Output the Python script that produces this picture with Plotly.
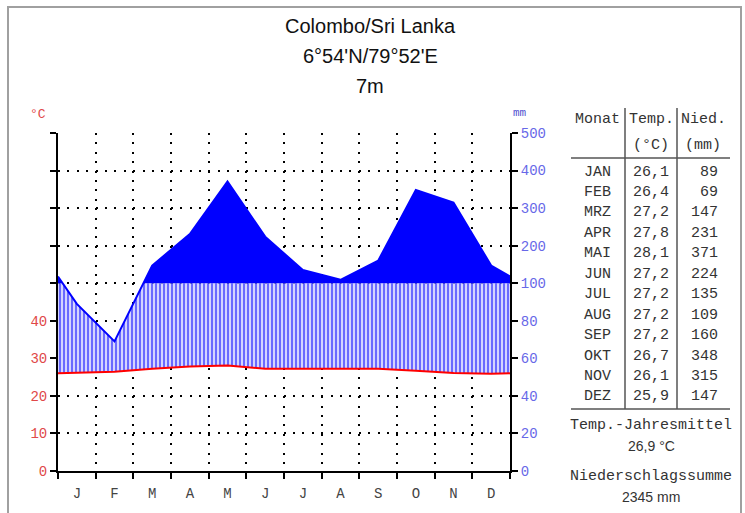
import plotly.graph_objects as go

# ---------------- data ----------------
title_lines = ["Colombo/Sri Lanka", "6°54'N/79°52'E", "7m"]
months = ["J", "F", "M", "A", "M", "J", "J", "A", "S", "O", "N", "D"]
month_names = ["JAN", "FEB", "MRZ", "APR", "MAI", "JUN", "JUL", "AUG", "SEP", "OKT", "NOV", "DEZ"]
temp = [26.1, 26.4, 27.2, 27.8, 28.1, 27.2, 27.2, 27.2, 27.2, 26.7, 26.1, 25.9]
precip = [89, 69, 147, 231, 371, 224, 135, 109, 160, 348, 315, 147]
left_ticktext = ["0", "10", "20", "30", "40", "", "", "", "", ""]
right_ticktext = ["0", "20", "40", "60", "80", "100", "200", "300", "400", "500"]

# ---------------- geometry ----------------
W, H = 745, 513
L, R, T, B = 58, 510, 133, 471
MONO = "Liberation Mono"
SANS = "Liberation Sans"


def X(px):
    return (px - L) / (R - L)


def Y(py):
    return (B - py) / (B - T)


def tr(p):
    # Walter-Lieth scale: 20 mm = 10 °C up to 100 mm, then 100 mm per 10 °C
    return p / 2.0 if p <= 100 else 50 + (p - 100) / 10.0


# x positions: edges plus month centres (wrap-around at edges)
xs = [0.0] + [i + 0.5 for i in range(12)] + [12.0]
p_edge = (precip[-1] + precip[0]) / 2.0
t_edge = (temp[-1] + temp[0]) / 2.0
P = [tr(p_edge)] + [tr(v) for v in precip] + [tr(p_edge)]
Tt = [t_edge] + temp + [t_edge]

# insert crossing points with the 100 mm level
px_, py_ = [], []
for i in range(len(xs)):
    if i > 0 and (P[i - 1] - 50) * (P[i] - 50) < 0:
        f = (50 - P[i - 1]) / (P[i] - P[i - 1])
        px_.append(xs[i - 1] + f * (xs[i] - xs[i - 1]))
        py_.append(50.0)
    px_.append(xs[i])
    py_.append(P[i])

upper_hatch = [min(v, 50.0) for v in py_]
upper_solid = [max(v, 50.0) for v in py_]

fig = go.Figure()
# base for hatched region: temperature curve
fig.add_trace(go.Scatter(x=xs, y=Tt, mode="lines", line=dict(width=0, color="red"),
                         hoverinfo="skip", showlegend=False))
fig.add_trace(go.Scatter(x=px_, y=upper_hatch, mode="lines", fill="tonexty",
                         line=dict(color="#0000ff", width=0),
                         fillcolor="#d4d4ff",
                         fillpattern=dict(shape="|", size=4, solidity=0.5,
                                          fgcolor="#0000ff", bgcolor="#d4d4ff"),
                         hoverinfo="skip", showlegend=False))
# base at 100 mm
fig.add_trace(go.Scatter(x=[0, 12], y=[50, 50], mode="lines", line=dict(width=0, color="#0000ff"),
                         hoverinfo="skip", showlegend=False))
fig.add_trace(go.Scatter(x=px_, y=upper_solid, mode="lines", fill="tonexty",
                         line=dict(color="#0000ff", width=0), fillcolor="#0000ff",
                         hoverinfo="skip", showlegend=False))
# precipitation outline
fig.add_trace(go.Scatter(x=px_, y=py_, mode="lines", line=dict(color="#0000ff", width=2),
                         hoverinfo="skip", showlegend=False))
# temperature line
fig.add_trace(go.Scatter(x=xs, y=Tt, mode="lines", line=dict(color="#ff0000", width=2),
                         hoverinfo="skip", showlegend=False))
# dummy for right axis
fig.add_trace(go.Scatter(x=[0], y=[0], mode="lines", yaxis="y2", line=dict(width=0),
                         hoverinfo="skip", showlegend=False))

dots = "2px,7.4px"
fig.update_layout(
    width=W, height=H, autosize=False,
    margin=dict(l=L, r=W - R, t=T, b=H - B, pad=0),
    paper_bgcolor="white", plot_bgcolor="white",
    xaxis=dict(range=[0, 12], showgrid=False, zeroline=False,
               tickmode="array", tickvals=[i + 0.5 for i in range(12)], ticktext=months,
               ticks="", showline=True, linecolor="black", linewidth=2,
               tickfont=dict(family=MONO, size=14, color="#444444"),
               ticklabelstandoff=8,
               minor=dict(tick0=0, dtick=1, ticks="outside", ticklen=6, tickwidth=2,
                          tickcolor="black", showgrid=True, gridcolor="black",
                          gridwidth=2, griddash=dots)),
    yaxis=dict(range=[0, 90], tickmode="array", tickvals=list(range(0, 91, 10)),
               ticktext=left_ticktext, ticks="outside", ticklen=6, tickwidth=2,
               tickcolor="black", showline=True, linecolor="black", linewidth=2,
               showgrid=True, gridcolor="black", gridwidth=2, griddash=dots,
               zeroline=False, tickfont=dict(family=MONO, size=14, color="#e04848")),
    yaxis2=dict(range=[0, 90], overlaying="y", side="right", tickmode="array",
                tickvals=list(range(0, 91, 10)), ticktext=right_ticktext,
                ticks="outside", ticklen=6, tickwidth=2, tickcolor="black",
                showline=True, linecolor="black", linewidth=2, showgrid=False,
                zeroline=False, tickfont=dict(family=MONO, size=14, color="#6868e8")),
)

ann = []
shapes = []


def text(px, py, s, size=15, color="#333333", family=MONO, xanchor="center"):
    ann.append(dict(x=X(px), y=Y(py), xref="paper", yref="paper", text=s, showarrow=False,
                    xanchor=xanchor, yanchor="middle",
                    font=dict(family=family, size=size, color=color)))


def line(x0, y0, x1, y1, color="#555555", width=1.5):
    shapes.append(dict(type="line", xref="paper", yref="paper", x0=X(x0), y0=Y(y0),
                       x1=X(x1), y1=Y(y1), line=dict(color=color, width=width)))


# title
for k, s in enumerate(title_lines):
    text(370, 26 + 30 * k, s, size=20, color="#111111", family=SANS)

# axis unit labels
text(38, 115, "°C", size=13, color="#e04848")
text(520, 113, "mm", size=11, color="#5050d0")

# table
cx_m, cx_t, rx_n = 597, 651, 720
text(cx_m, 120, "Monat")
text(cx_t, 120, "Temp.")
text(703, 120, "Nied.")
text(cx_t, 145, "(°C)")
text(703, 145, "(mm)")
line(571, 158, 730, 158)
row0, drow = 172, 20.45
for i in range(12):
    yy = row0 + i * drow
    text(cx_m, yy, month_names[i])
    text(cx_t, yy, f"{temp[i]:.1f}".replace(".", ","))
    text(rx_n, yy, str(precip[i]), xanchor="right")
line(625, 108, 625, 409)
line(677, 108, 677, 409)
line(571, 409, 730, 409)

mean_t = sum(temp) / len(temp)
sum_p = sum(precip)
text(651, 425, "Temp.-Jahresmittel")
text(651, 446, f"{mean_t:.1f}".replace(".", ",") + " °C", size=14, family=SANS)
text(651, 476, "Niederschlagssumme")
text(651, 497, f"{sum_p} mm", size=14, family=SANS)

# outer frame
shapes.append(dict(type="rect", xref="paper", yref="paper", x0=X(8), y0=Y(530),
                   x1=X(741), y1=Y(7), line=dict(color="#a0a0a0", width=2),
                   fillcolor="rgba(0,0,0,0)", layer="below"))

fig.update_layout(annotations=ann, shapes=shapes)
fig.write_html("out.html", config={"displayModeBar": False},
               post_script="document.body.style.margin='0px';document.body.style.padding='0px';")
